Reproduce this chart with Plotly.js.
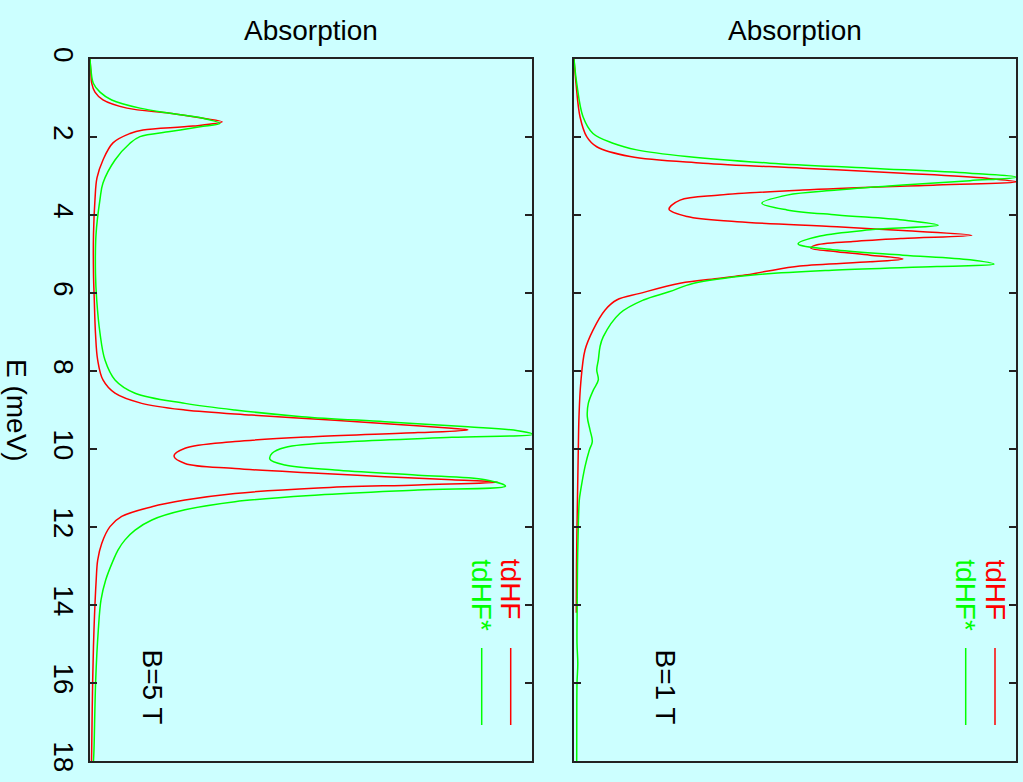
<!DOCTYPE html>
<html>
<head>
<meta charset="utf-8">
<script src="https://cdn.plot.ly/plotly-3.0.1.min.js"></script>
<style>html,body{margin:0;padding:0;background:#ccffff;}#chart{width:1023px;height:782px;}</style>
</head>
<body>
<div id="chart"></div>
<script>
// ---- Data: energy E (meV) and absorption (arb. units) ----
// Panel B = 5 T
const E_tdHF_B5 = [0,0.3,0.62,0.85,1.05,1.26,1.39,1.52,1.61,1.72,1.82,1.91,2.15,2.59,3.05,3.6,4.5,5.5,6.18,7.03,7.72,8.23,8.57,8.83,9.0,9.13,9.26,9.38,9.47,9.51,9.58,9.68,9.81,9.98,10.18,10.37,10.5,10.62,10.71,10.79,10.85,10.92,11.0,11.14,11.31,11.48,11.73,11.99,12.42,12.85,13.36,14.64,15.92,17.72,18];
const A_tdHF_B5 = [0,0.18,0.38,1.13,2.94,8.37,18.1,25.6,29.9,23.3,12.0,9.05,5.2,2.94,1.58,1.13,0.79,0.79,0.97,1.24,1.74,2.94,5.66,11.7,21.5,36.6,55.4,70.5,81.8,85.5,74.2,51.6,32.8,21.5,19.0,21.5,32.8,51.6,66.7,81.9,92.2,74.2,51.6,32.8,21.5,14.0,7.17,4.52,2.65,1.74,1.40,0.90,0.61,0.38,0.34];
const E_tdHFs_B5 = [0,0.3,0.62,0.85,1.05,1.26,1.39,1.52,1.65,1.74,1.86,1.99,2.16,2.59,3.18,3.6,4.5,5.5,6.18,7.03,7.72,8.23,8.57,8.83,9.0,9.17,9.3,9.43,9.53,9.62,9.7,9.81,9.96,10.11,10.26,10.41,10.54,10.67,10.79,10.95,11.05,11.18,11.35,11.56,11.82,12.08,12.33,12.59,12.85,13.36,13.87,14.64,15.92,17.72,18];
const A_tdHFs_B5 = [0,0.23,0.75,2.26,4.91,11.3,18.1,25.6,29.4,24.9,18.1,11.3,9.05,5.66,2.94,2.26,1.36,1.24,1.52,2.26,3.39,5.66,10.2,21.5,32.8,47.9,66.7,85.5,96.8,100.2,81.9,59.3,44.1,41.2,40.7,44.1,55.4,74.2,89.4,94.0,74.2,51.6,32.8,21.5,14.0,10.2,7.92,6.33,5.27,3.55,2.49,1.88,1.29,0.90,0.79];
// Panel B = 1 T
const E_tdHF_B1 = [0,0.62,1.48,1.99,2.25,2.5,2.67,2.8,2.93,3.06,3.15,3.23,3.36,3.49,3.62,3.85,4.04,4.17,4.3,4.4,4.52,4.6,4.68,4.78,4.85,4.94,5.03,5.13,5.2,5.31,5.45,5.54,5.62,5.75,6.01,6.18,6.44,6.95,7.46,8.32,9.17,10.03,10.9,12,13,14.2];
const A_tdHF_B1 = [0,0.45,1.36,2.87,5.14,12.7,29.2,51.8,74.4,93.4,100.2,82.1,51.8,33.0,24.0,21.5,25.6,36.9,59.5,74.4,90.0,74.4,63.1,54.5,53.6,59.5,67.0,74.4,67.0,51.1,43.2,38.7,33.0,24.0,14.9,9.66,7.0,4.30,2.49,1.52,1.13,0.97,0.84,0.68,0.57,0.52];
const E_tdHFs_B1 = [0,0.62,1.48,1.91,2.16,2.33,2.5,2.67,2.8,2.93,3.03,3.12,3.23,3.36,3.49,3.7,3.87,4.0,4.13,4.26,4.38,4.54,4.74,4.9,5.03,5.15,5.26,5.32,5.41,5.54,5.75,5.97,6.18,6.52,7.12,7.38,7.72,7.97,8.23,8.49,8.83,9.17,9.51,9.81,10.03,10.45,11.05,11.31,12,13,14,15,15.5,16,17,18];
const A_tdHFs_B1 = [0,0.61,2.04,4.30,8.82,14.2,25.5,44.3,67.0,89.6,100.2,89.6,74.4,59.5,48.2,42.5,48.2,59.5,74.4,82.4,67.0,55.7,50.7,59.5,74.4,89.6,95.0,82.1,59.5,40.5,27.1,21.5,15.7,10.4,6.63,5.88,5.50,5.14,5.50,4.37,3.24,3.01,3.62,4.14,3.46,2.49,1.52,1.20,0.97,0.79,0.72,0.68,0.86,0.68,0.63,0.61];

const seriesNames = ['tdHF','tdHF*'];
const seriesColors = ['#ff0000','#00ff00'];
const panelTitles = ['Absorption','Absorption'];
const panelLabels = ['B=5 T','B=1 T'];
const yTickVals = [0,2,4,6,8,10,12,14,16,18];
const yTitle = 'E (meV)';

// ---- Layout helpers (pixel -> paper) ----
const W = 1023, H = 782;
const px = x => x / W;
const py = y => 1 - y / H;
const FONT = 'Liberation Sans, Arial, Helvetica, sans-serif';

function trace(A, E, i, xa, ya) {
  return {x: A, y: E, type: 'scatter', mode: 'lines', xaxis: xa, yaxis: ya,
    line: {color: seriesColors[i], width: 1.5, shape: 'spline', smoothing: 1.0},
    showlegend: false, hoverinfo: 'skip'};
}

const data = [
  trace(A_tdHF_B5, E_tdHF_B5, 0, 'x', 'y'),
  trace(A_tdHFs_B5, E_tdHFs_B5, 1, 'x', 'y'),
  trace(A_tdHF_B1, E_tdHF_B1, 0, 'x2', 'y2'),
  trace(A_tdHFs_B1, E_tdHFs_B1, 1, 'x2', 'y2')
];

const axLine = '#222222';
function xax(domain, anchor) {
  return {domain: domain, anchor: anchor, range: [0, 100], showline: true, mirror: true,
    linecolor: axLine, linewidth: 2, showticklabels: false, ticks: '', showgrid: false,
    zeroline: false, fixedrange: true};
}
function yax(domain, anchor, labels) {
  return {domain: domain, anchor: anchor, range: [18, 0], tickvals: yTickVals,
    ticktext: yTickVals.map(String), ticks: 'inside', ticklen: 7, tickwidth: 2,
    tickcolor: axLine, showline: true, mirror: 'ticks', linecolor: axLine, linewidth: 2,
    showgrid: false, zeroline: false, showticklabels: labels, tickangle: 90,
    tickfont: {family: FONT, size: 28, color: '#000'}, fixedrange: true};
}

const yDom = [1 - 761 / H, 1 - 59 / H];
const layout = {
  width: W, height: H,
  paper_bgcolor: '#ccffff', plot_bgcolor: '#ccffff',
  margin: {l: 0, r: 0, t: 0, b: 0},
  showlegend: false,
  xaxis: xax([px(90), px(532)], 'y'),
  yaxis: yax(yDom, 'x', true),
  xaxis2: xax([px(574), px(1016)], 'y2'),
  yaxis2: yax(yDom, 'x2', false),
  annotations: [],
  shapes: []
};

const ann = (text, x, y, opts) => Object.assign({text: text, x: px(x), y: py(y), xref: 'paper', yref: 'paper',
  showarrow: false, font: {family: FONT, size: 28, color: '#000'}}, opts);

// Titles
layout.annotations.push(ann(panelTitles[0], 311, 31, {xanchor: 'center', yanchor: 'middle'}));
layout.annotations.push(ann(panelTitles[1], 795, 31, {xanchor: 'center', yanchor: 'middle'}));
// Y axis title (rotated, reading downwards)
layout.annotations.push(ann(yTitle, 17, 410, {textangle: 90, xanchor: 'center', yanchor: 'middle'}));
// Legends
const legX = [[510.7, 481.7], [995, 965.7]];
for (let p = 0; p < 2; p++) {
  for (let i = 0; i < 2; i++) {
    layout.annotations.push(ann(seriesNames[i], legX[p][i], 557, {textangle: 90, xanchor: 'center', yanchor: 'top',
      font: {family: FONT, size: 28, color: seriesColors[i]}}));
    layout.shapes.push({type: 'line', xref: 'paper', yref: 'paper', x0: px(legX[p][i]), x1: px(legX[p][i]),
      y0: py(648), y1: py(725), line: {color: seriesColors[i], width: 1.5}});
  }
}
// Panel labels
layout.annotations.push(ann(panelLabels[0], 152, 647, {textangle: 90, xanchor: 'center', yanchor: 'top'}));
layout.annotations.push(ann(panelLabels[1], 665, 647, {textangle: 90, xanchor: 'center', yanchor: 'top'}));

Plotly.newPlot('chart', data, layout, {displayModeBar: false, staticPlot: true});
</script>
</body>
</html>
